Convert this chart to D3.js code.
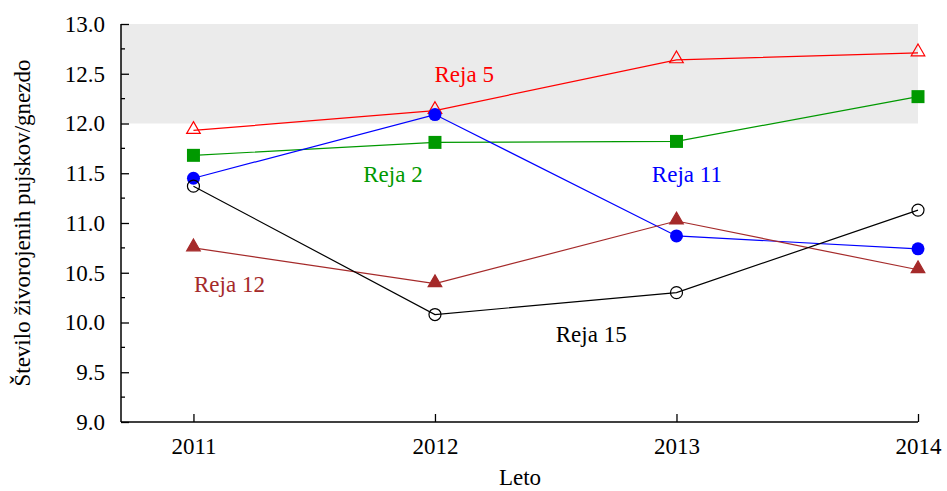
<!DOCTYPE html>
<html>
<head>
<meta charset="utf-8">
<script src="https://cdn.jsdelivr.net/npm/d3@7"></script>
<style>
  html, body { margin: 0; padding: 0; background: #fff; }
  svg { display: block; font-family: "Liberation Serif", "Times New Roman", serif; }
</style>
</head>
<body>
<svg id="chart" width="947" height="491"></svg>
<script>
// Years on the x axis
const years = [2011, 2012, 2013, 2014];
// Mean number of live-born piglets per litter for each herd
const reja5  = [11.93, 12.13, 12.64, 12.71];
const reja2  = [11.68, 11.81, 11.82, 12.27];
const reja11 = [11.45, 12.09, 10.87, 10.74];
const reja12 = [10.75, 10.39, 11.02, 10.53];
const reja15 = [11.37, 10.08, 10.30, 11.13];
const yTicks = [9.0, 9.5, 10.0, 10.5, 11.0, 11.5, 12.0, 12.5, 13.0];
const bandRange = [12.0, 13.0];

const series = [
  { name: "Reja 5",  values: reja5,  color: "#ff0000", shape: "triangle", filled: false, label: [2012.121, 12.417] },
  { name: "Reja 2",  values: reja2,  color: "#009900", shape: "square",   filled: true,  label: [2011.826, 11.415] },
  { name: "Reja 11", values: reja11, color: "#0000ff", shape: "circle",   filled: true,  label: [2013.043, 11.415] },
  { name: "Reja 12", values: reja12, color: "#a52a2a", shape: "triangle", filled: true,  label: [2011.149, 10.31] },
  { name: "Reja 15", values: reja15, color: "#000000", shape: "circle",   filled: false, label: [2012.647, 9.807] }
];

const svg = d3.select("#chart");
const mLeft = 121, mRight = 918, mTop = 24, mBottom = 422;
const fontSize = 23;

const x = d3.scaleLinear().domain([2010.7, 2014]).range([mLeft, mRight]);
const y = d3.scaleLinear().domain([9, 13]).range([mBottom, mTop]);

// Shaded band
svg.append("rect")
  .attr("x", mLeft).attr("y", y(bandRange[1]))
  .attr("width", mRight - mLeft).attr("height", y(bandRange[0]) - y(bandRange[1]))
  .attr("fill", "#ebebeb");

// Y axis with inward ticks
const yAxis = d3.axisLeft(y)
  .tickValues(yTicks)
  .tickSize(-8)
  .tickPadding(16)
  .tickFormat(d3.format(".1f"));
const yg = svg.append("g").attr("transform", `translate(${mLeft},0)`).call(yAxis);
yg.attr("font-size", fontSize).attr("font-family", "Liberation Serif, serif");
yg.select(".domain").attr("d", `M0,${mTop}V${mBottom}`).attr("stroke", "#000").attr("stroke-width", 1.5);
yg.selectAll(".tick line").attr("stroke", "#000").attr("stroke-width", 1.3);
yg.selectAll(".tick text").attr("fill", "#000");
// minor ticks
const minor = d3.range(9.25, 13, 0.5);
yg.selectAll(".minor").data(minor).enter().append("line")
  .attr("x1", 0).attr("x2", 4)
  .attr("y1", d => y(d)).attr("y2", d => y(d))
  .attr("stroke", "#000").attr("stroke-width", 1.3);

// X axis with inward ticks
const xAxis = d3.axisBottom(x)
  .tickValues(years)
  .tickSize(-8)
  .tickPadding(16)
  .tickFormat(d3.format("d"));
const xg = svg.append("g").attr("transform", `translate(0,${mBottom})`).call(xAxis);
xg.attr("font-size", fontSize).attr("font-family", "Liberation Serif, serif");
xg.select(".domain").attr("d", `M${mLeft},0H${mRight}`).attr("stroke", "#000").attr("stroke-width", 1.5);
xg.selectAll(".tick line").attr("stroke", "#000").attr("stroke-width", 1.3);
xg.selectAll(".tick text").attr("fill", "#000");

// Axis titles
svg.append("text")
  .attr("x", 520).attr("y", 485)
  .attr("text-anchor", "middle").attr("font-size", fontSize).text("Leto");
svg.append("text")
  .attr("transform", `translate(30,${(mTop + mBottom) / 2}) rotate(-90)`)
  .attr("text-anchor", "middle").attr("font-size", fontSize)
  .text("Število živorojenih pujskov/gnezdo");

// Lines and markers
const line = d3.line().x((d, i) => x(years[i])).y(d => y(d));
const tri = d3.symbol().type(d3.symbolTriangle).size(80);
const sq = d3.symbol().type(d3.symbolSquare).size(169);

series.forEach(s => {
  const g = svg.append("g");
  g.append("path").datum(s.values)
    .attr("d", line).attr("fill", "none")
    .attr("stroke", s.color).attr("stroke-width", 1.2);
  const pts = g.selectAll(".pt").data(s.values).enter();
  if (s.shape === "circle") {
    pts.append("circle")
      .attr("cx", (d, i) => x(years[i])).attr("cy", d => y(d))
      .attr("r", s.filled ? 6.5 : 6)
      .attr("fill", s.filled ? s.color : "none")
      .attr("stroke", s.color).attr("stroke-width", s.filled ? 0 : 1.2);
  } else if (s.shape === "square") {
    pts.append("path")
      .attr("d", sq)
      .attr("transform", (d, i) => `translate(${x(years[i])},${y(d)})`)
      .attr("fill", s.color);
  } else {
    pts.append("path")
      .attr("d", tri)
      .attr("transform", (d, i) => `translate(${x(years[i])},${y(d) - 1})`)
      .attr("fill", s.filled ? s.color : "none")
      .attr("stroke", s.color).attr("stroke-width", 1.2);
  }
  svg.append("text")
    .attr("x", x(s.label[0])).attr("y", y(s.label[1]))
    .attr("text-anchor", "middle").attr("font-size", fontSize)
    .attr("fill", s.color).text(s.name);
});
</script>
</body>
</html>
